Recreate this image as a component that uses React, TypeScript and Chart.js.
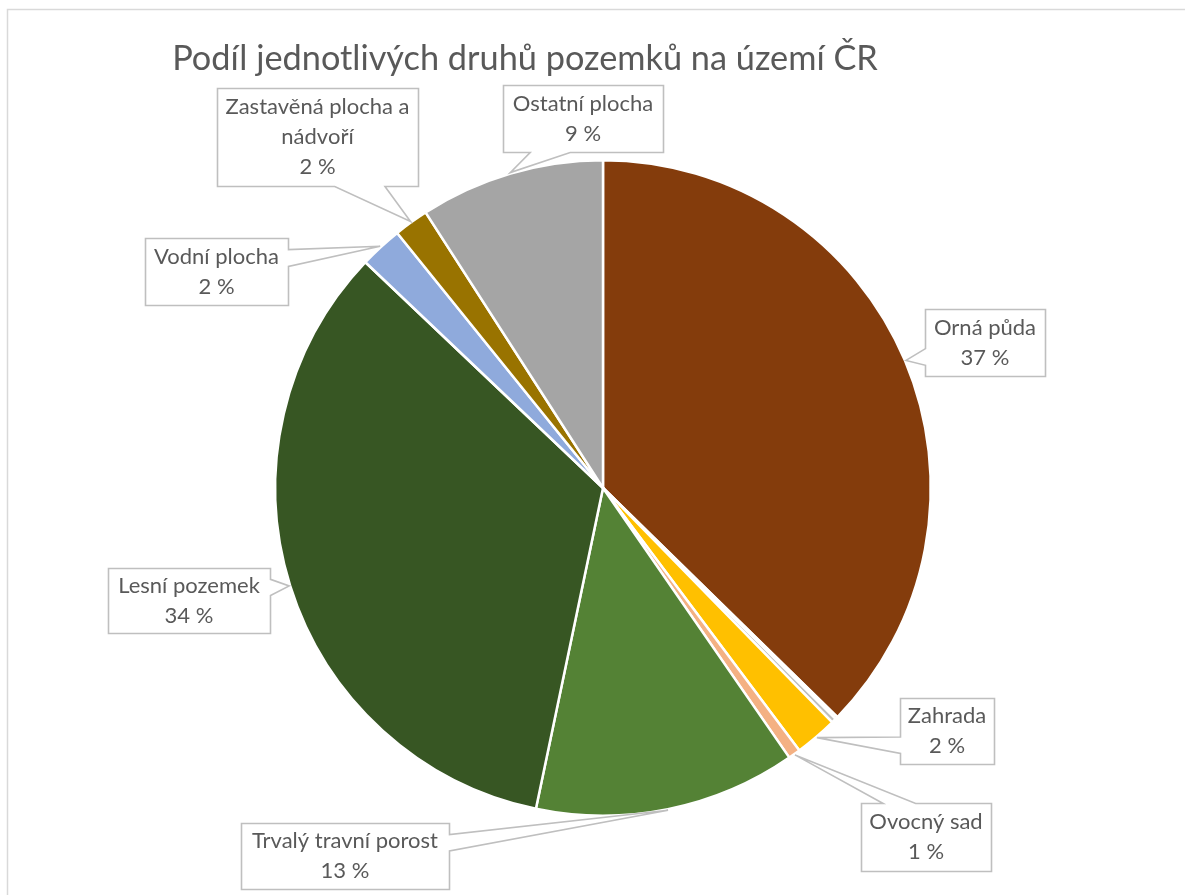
import { useEffect, useRef } from "react";
import { Chart, registerables } from "chart.js";

Chart.register(...registerables);

// ---- data ----
const title = "Podíl jednotlivých druhů pozemků na území ČR";
const categories = [
  "Orná půda",
  "Chmelnice",
  "Vinice",
  "Zahrada",
  "Ovocný sad",
  "Trvalý travní porost",
  "Lesní pozemek",
  "Vodní plocha",
  "Zastavěná plocha a nádvoří",
  "Ostatní plocha",
];
const shares = [37.3, 0.13, 0.23, 2.1, 0.6, 12.9, 33.8, 2.1, 1.7, 9.1];
const sliceColors = [
  "#843C0C",
  "#7F7F7F",
  "#BFBFBF",
  "#FFC000",
  "#F4B183",
  "#548235",
  "#375623",
  "#8FAADC",
  "#997300",
  "#A5A5A5",
];

// ---- layout of the callout label boxes (pixels) ----
const calloutBoxes = [
  { index: 0, x: 925, y: 309, w: 120, h: 67 },
  { index: 3, x: 900, y: 698, w: 94, h: 66 },
  { index: 4, x: 861, y: 803, w: 130, h: 68 },
  { index: 5, x: 241, y: 823, w: 208, h: 66 },
  { index: 6, x: 108, y: 568, w: 162, h: 65 },
  { index: 7, x: 145, y: 238, w: 143, h: 67 },
  { index: 8, x: 217, y: 88, w: 201, h: 98 },
  { index: 9, x: 503, y: 85, w: 160, h: 67 },
];

const TEXT_COLOR = "#595959";
const FONT_FAMILY = "Lato, 'Open Sans', sans-serif";

function wrapLines(ctx: CanvasRenderingContext2D, text: string, maxW: number) {
  const words = text.split(" ");
  const lines: string[] = [];
  let cur = "";
  for (const w of words) {
    const t = cur ? cur + " " + w : w;
    if (cur && ctx.measureText(t).width > maxW) {
      lines.push(cur);
      cur = w;
    } else cur = t;
  }
  if (cur) lines.push(cur);
  return lines;
}

function wedgePath(
  ctx: CanvasRenderingContext2D,
  x: number,
  y: number,
  w: number,
  h: number,
  tx: number,
  ty: number
) {
  const hc = x + w / 2;
  const vc = y + h / 2;
  const dxPos = tx - hc;
  const dyPos = ty - vc;
  const dq = (dxPos * h) / w;
  const dz = Math.abs(dyPos) - Math.abs(dq);
  const xg1 = dxPos > 0 ? 7 : 2;
  const xg2 = dxPos > 0 ? 10 : 5;
  const yg1 = dyPos > 0 ? 7 : 2;
  const yg2 = dyPos > 0 ? 10 : 5;
  const x1 = x + (w * xg1) / 12;
  const x2 = x + (w * xg2) / 12;
  const y1 = y + (h * yg1) / 12;
  const y2 = y + (h * yg2) / 12;
  ctx.beginPath();
  ctx.moveTo(x, y);
  if (dz > 0 && dyPos < 0) {
    ctx.lineTo(x1, y);
    ctx.lineTo(tx, ty);
    ctx.lineTo(x2, y);
  }
  ctx.lineTo(x + w, y);
  if (dz <= 0 && dxPos > 0) {
    ctx.lineTo(x + w, y1);
    ctx.lineTo(tx, ty);
    ctx.lineTo(x + w, y2);
  }
  ctx.lineTo(x + w, y + h);
  if (dz > 0 && dyPos > 0) {
    ctx.lineTo(x2, y + h);
    ctx.lineTo(tx, ty);
    ctx.lineTo(x1, y + h);
  }
  ctx.lineTo(x, y + h);
  if (dz <= 0 && dxPos < 0) {
    ctx.lineTo(x, y2);
    ctx.lineTo(tx, ty);
    ctx.lineTo(x, y1);
  }
  ctx.closePath();
}

const decorPlugin = {
  id: "decor",
  beforeDraw(chart: any) {
    const ctx: CanvasRenderingContext2D = chart.ctx;
    ctx.save();
    ctx.fillStyle = "#ffffff";
    ctx.fillRect(0, 0, chart.width, chart.height);
    ctx.strokeStyle = "#D9D9D9";
    ctx.lineWidth = 1.5;
    ctx.strokeRect(7.5, 9.5, chart.width + 20, chart.height + 20);
    ctx.restore();
  },
  afterDraw(chart: any) {
    const ctx: CanvasRenderingContext2D = chart.ctx;
    ctx.save();
    // title
    ctx.font = `32px ${FONT_FAMILY}`;
    const tw = ctx.measureText(title).width;
    const titleSize = (32 * 706) / tw;
    ctx.font = `${titleSize}px ${FONT_FAMILY}`;
    ctx.fillStyle = TEXT_COLOR;
    ctx.textAlign = "center";
    ctx.textBaseline = "alphabetic";
    ctx.fillText(title, 525, 70);

    // label font fitted to reference
    ctx.font = `20px ${FONT_FAMILY}`;
    const refW = ctx.measureText("Zastavěná plocha a").width;
    const labelSize = (20 * 184) / refW;
    ctx.font = `${labelSize}px ${FONT_FAMILY}`;

    const ds = chart.data.datasets[0].data as number[];
    const total = ds.reduce((a, b) => a + b, 0);
    const meta = chart.getDatasetMeta(0);

    for (const box of calloutBoxes) {
      const arc = meta.data[box.index];
      const p = arc.getProps(["x", "y", "startAngle", "endAngle", "outerRadius"], true);
      const mid = (p.startAngle + p.endAngle) / 2;
      const tx = p.x + Math.cos(mid) * (p.outerRadius + 1);
      const ty = p.y + Math.sin(mid) * (p.outerRadius + 1);
      wedgePath(ctx, box.x + 0.5, box.y + 0.5, box.w, box.h, tx, ty);
      ctx.fillStyle = "#ffffff";
      ctx.fill();
      ctx.strokeStyle = "#BFBFBF";
      ctx.lineWidth = 1.6;
      ctx.stroke();

      const name = chart.data.labels[box.index] as string;
      const pct = Math.round((ds[box.index] / total) * 100) + " %";
      const lines = [...wrapLines(ctx, name, box.w - 10), pct];
      const lh = 30;
      const cy = box.y + box.h / 2;
      ctx.fillStyle = TEXT_COLOR;
      ctx.textAlign = "center";
      ctx.textBaseline = "middle";
      lines.forEach((ln, k) => {
        const ly = cy + (k - (lines.length - 1) / 2) * lh;
        ctx.fillText(ln, box.x + box.w / 2, ly);
      });
    }
    ctx.restore();
  },
};

export default function App() {
  const ref = useRef<HTMLCanvasElement>(null);
  useEffect(() => {
    const chart = new Chart(ref.current!, {
      type: "pie",
      data: {
        labels: categories,
        datasets: [
          {
            data: shares,
            backgroundColor: sliceColors,
            borderColor: "#ffffff",
            borderWidth: 2.5,
          },
        ],
      },
      options: {
        responsive: false,
        animation: false,
        layout: { padding: { left: 274, right: 253, top: 159, bottom: 78 } },
        plugins: {
          legend: { display: false },
          tooltip: { enabled: false },
          title: { display: false },
        },
      },
      plugins: [decorPlugin],
    });
    return () => chart.destroy();
  }, []);
  return (
    <div
      style={{
        position: "fixed",
        left: 0,
        top: 0,
        width: 1185,
        height: 895,
        background: "#fff",
      }}
    >
      <canvas
        ref={ref}
        width={1185}
        height={895}
        style={{ width: 1185, height: 895, display: "block" }}
      />
    </div>
  );
}
